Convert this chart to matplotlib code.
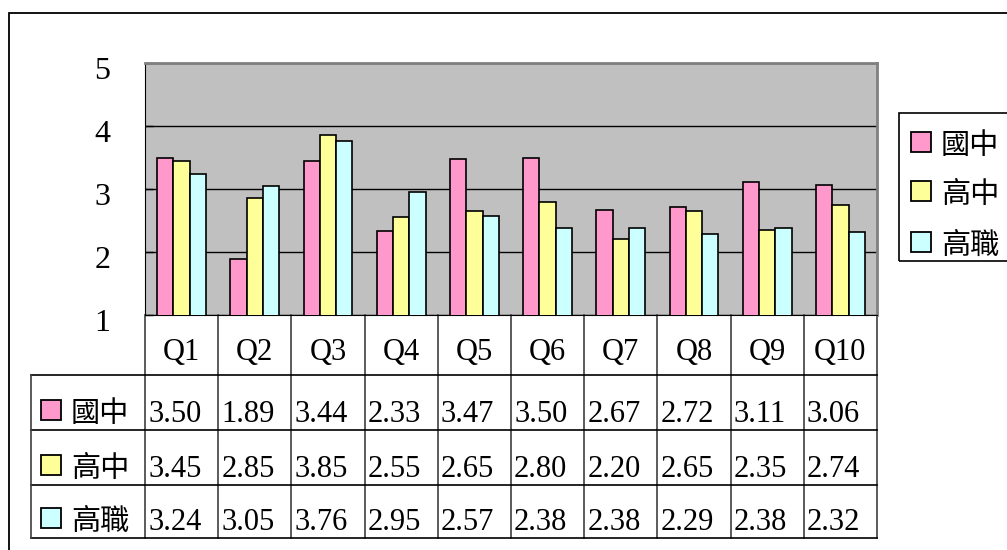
import numpy as np
import matplotlib
matplotlib.use('Agg')
import matplotlib.pyplot as plt
import matplotlib.transforms as mtransforms
from matplotlib.patches import Rectangle
from matplotlib.lines import Line2D

plt.rcParams['font.family'] = ['Liberation Serif', 'Noto Sans CJK TC']

# data
categories = ['Q1', 'Q2', 'Q3', 'Q4', 'Q5', 'Q6', 'Q7', 'Q8', 'Q9', 'Q10']
groups = ['國中', '高中', '高職']
junior = [3.50, 1.89, 3.44, 2.33, 3.47, 3.50, 2.67, 2.72, 3.11, 3.06]
senior = [3.45, 2.85, 3.85, 2.55, 2.65, 2.80, 2.20, 2.65, 2.35, 2.74]
vocational = [3.24, 3.05, 3.76, 2.95, 2.57, 2.38, 2.38, 2.29, 2.38, 2.32]
yticks = [1, 2, 3, 4, 5]
colors = ['#FF99CC', '#FFFF99', '#CCFFFF']
series = [junior, senior, vocational]

W, H = 1007, 550
fs = 22


def fx(px):
    return px / W


def fy(py):
    return 1 - py / H


fig = plt.figure(figsize=(W / 100, H / 100), dpi=100)

# outer chart border (runs off the right and bottom edge)
fig.add_artist(Rectangle((fx(9), fy(560)), 1.2, fy(13) - fy(560), transform=fig.transFigure,
                         fill=False, edgecolor='black', lw=1.3))

ax = fig.add_axes([fx(145), fy(315), fx(877) - fx(145), fy(63) - fy(315)])
ax.set_facecolor('#C0C0C0')

bw = 1 / 4.5
x = np.arange(len(categories)) + 0.5
for i, (vals, c) in enumerate(zip(series, colors)):
    ax.bar(x + (i - 1) * bw, vals, width=bw, color=c, edgecolor='black', linewidth=1.2, zorder=3)

ax.set_xlim(0, len(categories))
ax.set_ylim(1, 5)
ax.set_yticks(yticks)
ax.set_xticks([])
ax.yaxis.grid(True, color='black', lw=1)
ax.set_axisbelow(True)
ax.tick_params(axis='y', direction='in', length=6, width=1, pad=25, labelsize=fs + 1)
# push the y labels a little down, like the original
shift = mtransforms.ScaledTranslation(0, -5 / 100, fig.dpi_scale_trans)
for lab in ax.get_yticklabels():
    lab.set_transform(lab.get_transform() + shift)
for s in ['top', 'right']:
    ax.spines[s].set_color('#808080')
    ax.spines[s].set_linewidth(2)
ax.spines['left'].set_color('black')
ax.spines['bottom'].set_color('black')

# data table under the plot
bt = mtransforms.blended_transform_factory(ax.transData, fig.transFigure)
row_lines = [375, 430, 485, 538]
for xb in range(len(categories) + 1):
    ax.add_artist(Line2D([xb, xb], [fy(315), fy(538)], transform=bt, color='#404040', lw=1.2, clip_on=False))
for py in row_lines:
    fig.add_artist(Line2D([fx(31), fx(877)], [fy(py), fy(py)], transform=fig.transFigure, color='black', lw=1.2))
fig.add_artist(Line2D([fx(31), fx(31)], [fy(375), fy(538)], transform=fig.transFigure, color='#404040', lw=1.2))

for xi, cat in zip(x, categories):
    ax.text(xi, fy(360), cat, transform=bt, ha='center', va='baseline', fontsize=fs, clip_on=False)

vt = mtransforms.offset_copy(bt, fig=fig, x=3, y=0, units='dots')
for r, (vals, name, c) in enumerate(zip(series, groups, colors)):
    base = row_lines[r + 1] - 8
    for i, v in enumerate(vals):
        ax.text(i, fy(base), f'{v:.2f}', transform=vt, ha='left', va='baseline', fontsize=fs, clip_on=False)
    fig.add_artist(Rectangle((fx(41), fy(base - 2)), fx(20), 20 / H, transform=fig.transFigure,
                             facecolor=c, edgecolor='black', lw=1.3))
    fig.text(fx(71), fy(base), name, ha='left', va='baseline', fontsize=fs - 1)

# legend box
fig.add_artist(Rectangle((fx(899), fy(261)), 0.2, fy(113) - fy(261), transform=fig.transFigure,
                         fill=False, edgecolor='black', lw=1.2))
for name, c, cy in zip(groups, colors, [142, 191, 242]):
    fig.add_artist(Rectangle((fx(911), fy(cy + 10)), fx(20), 20 / H, transform=fig.transFigure,
                             facecolor=c, edgecolor='black', lw=1.3))
    fig.text(fx(941), fy(cy + 12), name, ha='left', va='baseline', fontsize=fs - 1)

fig.savefig('out.png', dpi=100)
